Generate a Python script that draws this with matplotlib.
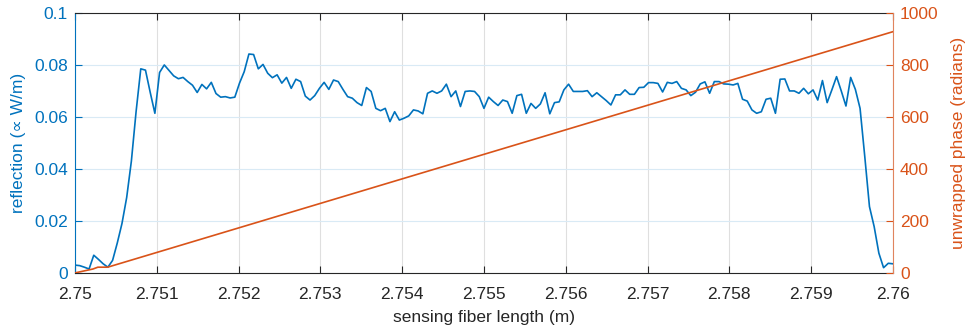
import numpy as np
import matplotlib
matplotlib.use("Agg")
import matplotlib.pyplot as plt

plt.rcParams['font.family'] = ['Liberation Sans', 'DejaVu Sans']

reflection = [
    0.0030, 0.0028, 0.0022, 0.0015, 0.0068, 0.0052, 0.0035, 0.0022, 0.0048, 0.0115,
    0.0190, 0.0290, 0.0430, 0.0620, 0.0785, 0.0780, 0.0695, 0.0614, 0.0771, 0.0800,
    0.0779, 0.0758, 0.0747, 0.0752, 0.0736, 0.0722, 0.0694, 0.0725, 0.0708, 0.0733,
    0.0690, 0.0676, 0.0678, 0.0673, 0.0676, 0.0730, 0.0774, 0.0842, 0.0840, 0.0785,
    0.0802, 0.0768, 0.0751, 0.0762, 0.0730, 0.0752, 0.0710, 0.0745, 0.0736, 0.0680,
    0.0665, 0.0682, 0.0710, 0.0733, 0.0706, 0.0742, 0.0736, 0.0706, 0.0678, 0.0672,
    0.0655, 0.0644, 0.0713, 0.0698, 0.0633, 0.0624, 0.0633, 0.0582, 0.0620, 0.0588,
    0.0595, 0.0604, 0.0627, 0.0623, 0.0612, 0.0691, 0.0700, 0.0691, 0.0700, 0.0726,
    0.0678, 0.0700, 0.0640, 0.0698, 0.0700, 0.0698, 0.0678, 0.0633, 0.0676, 0.0659,
    0.0644, 0.0665, 0.0659, 0.0614, 0.0682, 0.0687, 0.0614, 0.0652, 0.0633, 0.0650,
    0.0693, 0.0612, 0.0655, 0.0658, 0.0704, 0.0726, 0.0698, 0.0698, 0.0698, 0.0701,
    0.0678, 0.0693, 0.0678, 0.0663, 0.0646, 0.0685, 0.0685, 0.0704, 0.0687, 0.0687,
    0.0713, 0.0714, 0.0732, 0.0732, 0.0729, 0.0696, 0.0733, 0.0729, 0.0736, 0.0710,
    0.0704, 0.0682, 0.0695, 0.0727, 0.0735, 0.0691, 0.0736, 0.0736, 0.0727, 0.0726,
    0.0723, 0.0729, 0.0668, 0.0661, 0.0627, 0.0614, 0.0620, 0.0668, 0.0672, 0.0614,
    0.0745, 0.0746, 0.0700, 0.0700, 0.0691, 0.0710, 0.0689, 0.0704, 0.0665, 0.0740,
    0.0655, 0.0704, 0.0755, 0.0700, 0.0642, 0.0752, 0.0706, 0.0633, 0.0448, 0.0255,
    0.0178, 0.0076, 0.0020, 0.0037, 0.0035,
]
fiber_length = np.linspace(2.75, 2.76, len(reflection))

# unwrapped phase, breakpoints of the (almost) straight line
phase_x = [2.75, 2.75022, 2.75028, 2.75040, 2.76]
phase = [0, 15, 22, 22, 928]

blue = '#0072BD'
orange = '#D95319'
dark = '#262626'

fig = plt.figure(figsize=(9.66, 3.32), dpi=100)
ax = fig.add_axes([0.0776, 0.178, 0.8468, 0.783])
ax2 = ax.twinx()

ax.plot(fiber_length, reflection, color=blue, lw=1.2)
ax2.plot(phase_x, phase, color=orange, lw=1.2)

ax.set_xlim(2.75, 2.76)
ax.set_ylim(0, 0.1)
ax2.set_ylim(0, 1000)

xt = np.arange(2.75, 2.76001, 0.001)
ax.set_xticks(xt)
ax.set_xticklabels(['2.75'] + ['%.3f' % v for v in xt[1:-1]] + ['2.76'])
yt = [0, 0.02, 0.04, 0.06, 0.08, 0.1]
ax.set_yticks(yt)
ax.set_yticklabels(['0', '0.02', '0.04', '0.06', '0.08', '0.1'])
ax2.set_yticks(range(0, 1001, 200))

# MATLAB-like grid: x grid gray, y grid tinted by the left axis colour
ax.xaxis.grid(True, color='#DFDFDF', lw=0.8)
ax.yaxis.grid(True, color='#D9EAF5', lw=0.8)
ax.set_axisbelow(True)

ax.tick_params(axis='x', direction='in', top=True, colors=dark, labelsize=12.5, length=5, pad=10)
ax.tick_params(axis='y', direction='in', colors=blue, labelsize=12.5, length=5, right=False, pad=5)
ax2.tick_params(axis='y', direction='in', colors=orange, labelsize=12.5, length=5, pad=5)

for s in ['top', 'bottom']:
    ax.spines[s].set_color(dark)
ax.spines['left'].set_color(blue)
ax.spines['right'].set_visible(False)
for s in ['top', 'bottom', 'left']:
    ax2.spines[s].set_visible(False)
ax2.spines['right'].set_color('#E0845E')

ax.set_xlabel('sensing fiber length (m)', fontsize=12.5, color=dark, labelpad=6)
ax.set_ylabel('reflection (\u221d W/m)', fontsize=12.5, color=blue, labelpad=6)
ax2.set_ylabel('unwrapped phase (radians)', fontsize=12.5, color=orange, labelpad=9)

fig.savefig('out.png', dpi=100)
